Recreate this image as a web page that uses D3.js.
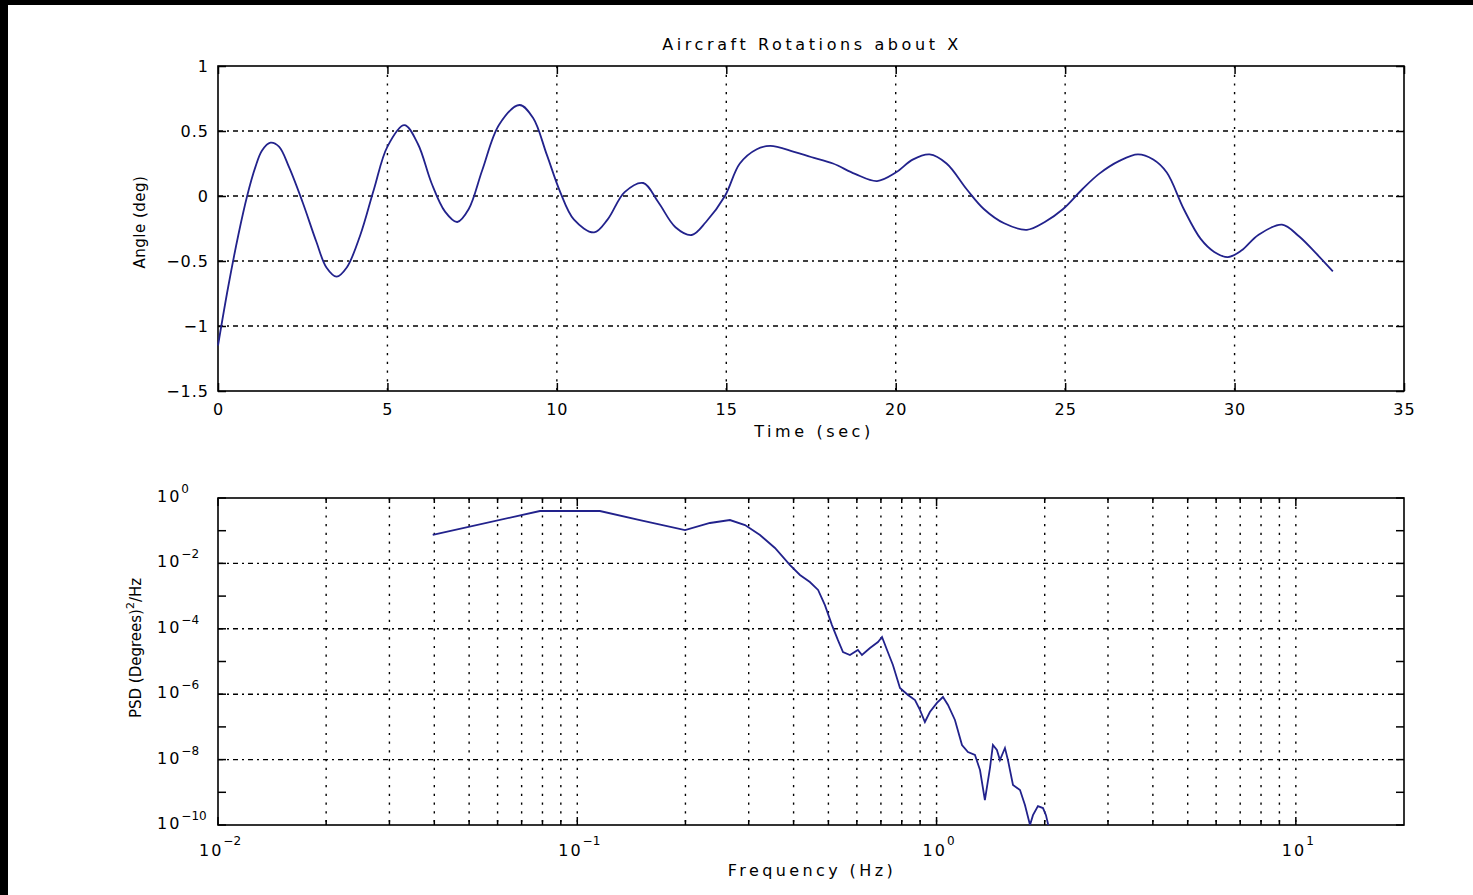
<!DOCTYPE html>
<html><head><meta charset="utf-8">
<script src="https://cdn.jsdelivr.net/npm/d3@7"></script>
<style>
body{margin:0;background:#fff}
svg{display:block}
text{font-family:"DejaVu Sans",sans-serif;fill:#000}
</style>
</head><body>
<svg id="c" width="1473" height="895"></svg>
<script>
// ---------- data ----------
const TIME = [0,0.3,0.6,0.86,1.1,1.3,1.55,1.8,2.1,2.5,2.9,3.2,3.5,3.8,4.2,4.6,5.0,5.5,5.9,6.3,6.7,7.06,7.4,7.8,8.3,8.9,9.3,9.7,10.1,10.5,11.1,11.5,12.0,12.55,13.0,13.5,13.98,14.4,14.96,15.4,15.9,16.3,17.0,17.5,18.15,18.8,19.45,20.0,20.5,21.0,21.5,22.1,22.6,23.2,23.87,24.4,24.94,25.5,26.0,26.6,27.15,27.6,28.0,28.5,29.0,29.4,29.8,30.2,30.7,31.4,31.9,32.4,32.9];
const ANGLE = [-1.15,-0.7,-0.3,0.0,0.22,0.35,0.41,0.38,0.22,-0.05,-0.35,-0.55,-0.62,-0.55,-0.3,0.05,0.38,0.545,0.4,0.1,-0.12,-0.2,-0.1,0.2,0.55,0.70,0.6,0.32,0.03,-0.18,-0.28,-0.18,0.03,0.1,-0.05,-0.24,-0.30,-0.2,0.0,0.25,0.36,0.385,0.34,0.30,0.25,0.17,0.115,0.18,0.28,0.32,0.25,0.05,-0.1,-0.21,-0.26,-0.2,-0.1,0.05,0.17,0.27,0.32,0.28,0.18,-0.1,-0.33,-0.43,-0.47,-0.42,-0.30,-0.22,-0.31,-0.44,-0.58];

const FREQ = [0.0396,0.0787,0.1156,0.1494,0.1995,0.234,0.266,0.293,0.3225,0.355,0.391,0.4167,0.444,0.468,0.489,0.5115,0.5315,0.549,0.574,0.604,0.620,0.6527,0.687,0.705,0.728,0.756,0.791,0.8325,0.871,0.899,0.928,0.958,1.0025,1.042,1.076,1.125,1.177,1.223,1.279,1.321,1.363,1.408,1.435,1.472,1.501,1.55,1.58,1.632,1.707,1.762,1.82,1.855,1.915,1.978,2.016,2.068];
const PSD = [0.074,0.40,0.40,0.212,0.105,0.172,0.212,0.149,0.074,0.0296,0.0089,0.00442,0.0027,0.00154,5.3e-4,1.3e-4,4.5e-5,1.95e-5,1.58e-5,2.25e-5,1.58e-5,2.59e-5,3.95e-5,5.6e-5,2.25e-5,7.8e-6,1.55e-6,9.5e-7,6.65e-7,3.3e-7,1.41e-7,2.86e-7,5.4e-7,8.2e-7,4.7e-7,1.63e-7,2.8e-8,1.7e-8,1.38e-8,4.8e-9,5.8e-10,5.5e-9,2.8e-8,1.97e-8,9.7e-9,2.26e-8,9.7e-9,1.67e-9,1.17e-9,4.1e-10,1e-10,2.0e-10,3.8e-10,3.3e-10,2.0e-10,6e-11];

const TIME_TICKS = [0,5,10,15,20,25,30,35];
const ANGLE_TICKS = [-1.5,-1,-0.5,0,0.5,1];
const FREQ_TICK_EXP = [-2,-1,0,1];
const PSD_TICK_EXP = [0,-2,-4,-6,-8,-10];
const PSD_MINOR_EXP = [-1,-3,-5,-7,-9];

const TITLE = "Aircraft Rotations about X";
const XLABEL1 = "Time (sec)";
const YLABEL1 = "Angle (deg)";
const XLABEL2 = "Frequency (Hz)";

// ---------- layout ----------
const svg = d3.select("#c");
svg.append("rect").attr("x",0).attr("y",0).attr("width",1473).attr("height",895).attr("fill","#fff");
svg.append("rect").attr("x",0).attr("y",0).attr("width",8).attr("height",895).attr("fill","#000");
svg.append("rect").attr("x",0).attr("y",0).attr("width",1473).attr("height",5).attr("fill","#000");

const L = 218, R = 1404;
const T1 = 66, B1 = 391;
const T2 = 498, B2 = 825;
const LINE = "#22228c";
const HDASH = "5,4,2,4";
const VDASH = "2.2,6.5";

// ---------- top plot ----------
const x1 = d3.scaleLinear().domain([0,35]).range([L,R]);
const y1 = d3.scaleLinear().domain([-1.5,1]).range([B1,T1]);

const g1 = svg.append("g");
g1.selectAll(".vg").data(TIME_TICKS.filter(d=>d>0&&d<35)).join("line")
  .attr("x1",d=>x1(d)).attr("x2",d=>x1(d)).attr("y1",T1).attr("y2",B1)
  .attr("stroke","#000").attr("stroke-width",1.4).attr("stroke-dasharray",VDASH);
g1.selectAll(".hg").data(ANGLE_TICKS.filter(d=>d>-1.5&&d<1)).join("line")
  .attr("x1",L).attr("x2",R).attr("y1",d=>y1(d)).attr("y2",d=>y1(d))
  .attr("stroke","#000").attr("stroke-width",1.4).attr("stroke-dasharray",HDASH);

const fmt = d3.format("~g");
function styleAxis(sel){
  sel.select(".domain").remove();
  sel.selectAll(".tick line").attr("stroke","#000").attr("stroke-width",1.5);
  sel.selectAll(".tick text").attr("font-size",16).attr("letter-spacing",1)
    .attr("font-family","DejaVu Sans, sans-serif").attr("fill","#000");
}
g1.append("g").attr("transform",`translate(0,${B1})`)
  .call(d3.axisBottom(x1).tickValues(TIME_TICKS).tickSize(-8).tickPadding(13).tickFormat(fmt)).call(styleAxis);
g1.append("g").attr("transform",`translate(0,${T1})`)
  .call(d3.axisTop(x1).tickValues(TIME_TICKS).tickSize(-8).tickFormat("")).call(styleAxis);
g1.append("g").attr("transform",`translate(${L},0)`)
  .call(d3.axisLeft(y1).tickValues(ANGLE_TICKS).tickSize(-8).tickPadding(9).tickFormat(fmt)).call(styleAxis);
g1.append("g").attr("transform",`translate(${R},0)`)
  .call(d3.axisRight(y1).tickValues(ANGLE_TICKS).tickSize(-8).tickFormat("")).call(styleAxis);

g1.append("rect").attr("x",L).attr("y",T1).attr("width",R-L).attr("height",B1-T1)
  .attr("fill","none").attr("stroke","#000").attr("stroke-width",1.6);

const line1 = d3.line().x((d,i)=>x1(TIME[i])).y((d,i)=>y1(ANGLE[i])).curve(d3.curveCatmullRom.alpha(0.5));
g1.append("path").datum(TIME).attr("d",line1).attr("fill","none")
  .attr("stroke",LINE).attr("stroke-width",1.8);

svg.append("text").attr("x",812).attr("y",50).attr("text-anchor","middle")
  .attr("font-size",16).attr("letter-spacing",3.6).text(TITLE);
svg.append("text").attr("x",814).attr("y",437).attr("text-anchor","middle")
  .attr("font-size",16).attr("letter-spacing",3.6).text(XLABEL1);
svg.append("text").attr("transform","translate(145,222) rotate(-90)").attr("text-anchor","middle")
  .attr("font-size",15).attr("letter-spacing",0.5).text(YLABEL1);

// ---------- bottom plot ----------
const x2 = d3.scaleLog().domain([0.01,20]).range([L,R]);
const y2 = d3.scaleLog().domain([1e-10,1]).range([B2,T2]);
const g2 = svg.append("g");

const minorX = [];
for (let e=-2; e<=1; e++) for (let m=1; m<=9; m++) { const v=m*Math.pow(10,e); if (v>0.0100001 && v<19.999) minorX.push(v); }

g2.selectAll(".vg").data(minorX).join("line")
  .attr("x1",d=>x2(d)).attr("x2",d=>x2(d)).attr("y1",T2).attr("y2",B2)
  .attr("stroke","#000").attr("stroke-width",1.4).attr("stroke-dasharray",VDASH);
g2.selectAll(".hg").data(PSD_TICK_EXP.filter(e=>e<0&&e>-10)).join("line")
  .attr("x1",L).attr("x2",R).attr("y1",e=>y2(Math.pow(10,e))).attr("y2",e=>y2(Math.pow(10,e)))
  .attr("stroke","#000").attr("stroke-width",1.4).attr("stroke-dasharray",HDASH);

const allX = minorX.concat([0.01]);
const isDecade = v => Math.abs(Math.log10(v) - Math.round(Math.log10(v))) < 1e-6;
[[B2,-1],[T2,1]].forEach(([yy,dir])=>{
  g2.selectAll(null).data(allX).join("line")
    .attr("x1",d=>x2(d)).attr("x2",d=>x2(d)).attr("y1",yy).attr("y2",d=>yy + dir*(isDecade(d)?8:5))
    .attr("stroke","#000").attr("stroke-width",1.5);
});
const allYExp = PSD_TICK_EXP.concat(PSD_MINOR_EXP);
[[L,1],[R,-1]].forEach(([xx,dir])=>{
  g2.selectAll(null).data(allYExp).join("line")
    .attr("y1",e=>y2(Math.pow(10,e))).attr("y2",e=>y2(Math.pow(10,e)))
    .attr("x1",xx).attr("x2",xx+dir*8)
    .attr("stroke","#000").attr("stroke-width",1.5);
});

g2.append("rect").attr("x",L).attr("y",T2).attr("width",R-L).attr("height",B2-T2)
  .attr("fill","none").attr("stroke","#000").attr("stroke-width",1.6);

const expStr = e => (e<0 ? "\u2212" + (-e) : String(e));
g2.selectAll(".xl").data(FREQ_TICK_EXP).join("text")
  .attr("x",e=>x2(Math.pow(10,e))+2).attr("y",856).attr("text-anchor","middle")
  .attr("font-size",16).attr("letter-spacing",2)
  .each(function(e){
    const t = d3.select(this);
    t.append("tspan").text("10");
    t.append("tspan").attr("dy",-11).attr("font-size",12).attr("letter-spacing",0).text(expStr(e));
  });
g2.selectAll(".yl").data(PSD_TICK_EXP).join("text")
  .attr("x",157).attr("y",e=>y2(Math.pow(10,e))+4).attr("text-anchor","start")
  .attr("font-size",16).attr("letter-spacing",2)
  .each(function(e){
    const t = d3.select(this);
    t.append("tspan").text("10");
    t.append("tspan").attr("dy",-9).attr("font-size",12).attr("letter-spacing",0).text(expStr(e));
  });

svg.append("clipPath").attr("id","clip2").append("rect")
  .attr("x",L).attr("y",T2).attr("width",R-L).attr("height",B2-T2);
const line2 = d3.line().x((d,i)=>x2(FREQ[i])).y((d,i)=>y2(PSD[i]));
g2.append("path").datum(FREQ).attr("d",line2).attr("fill","none")
  .attr("clip-path","url(#clip2)")
  .attr("stroke",LINE).attr("stroke-width",1.8);

svg.append("text").attr("x",812).attr("y",876).attr("text-anchor","middle")
  .attr("font-size",16).attr("letter-spacing",3.4).text(XLABEL2);
const yl2 = svg.append("text").attr("transform","translate(141,648) rotate(-90)").attr("text-anchor","middle")
  .attr("font-size",15).attr("letter-spacing",0);
yl2.append("tspan").text("PSD (Degrees)");
yl2.append("tspan").attr("dy",-7).attr("font-size",11).text("2");
yl2.append("tspan").attr("dy",7).text("/Hz");
</script>
</body></html>
